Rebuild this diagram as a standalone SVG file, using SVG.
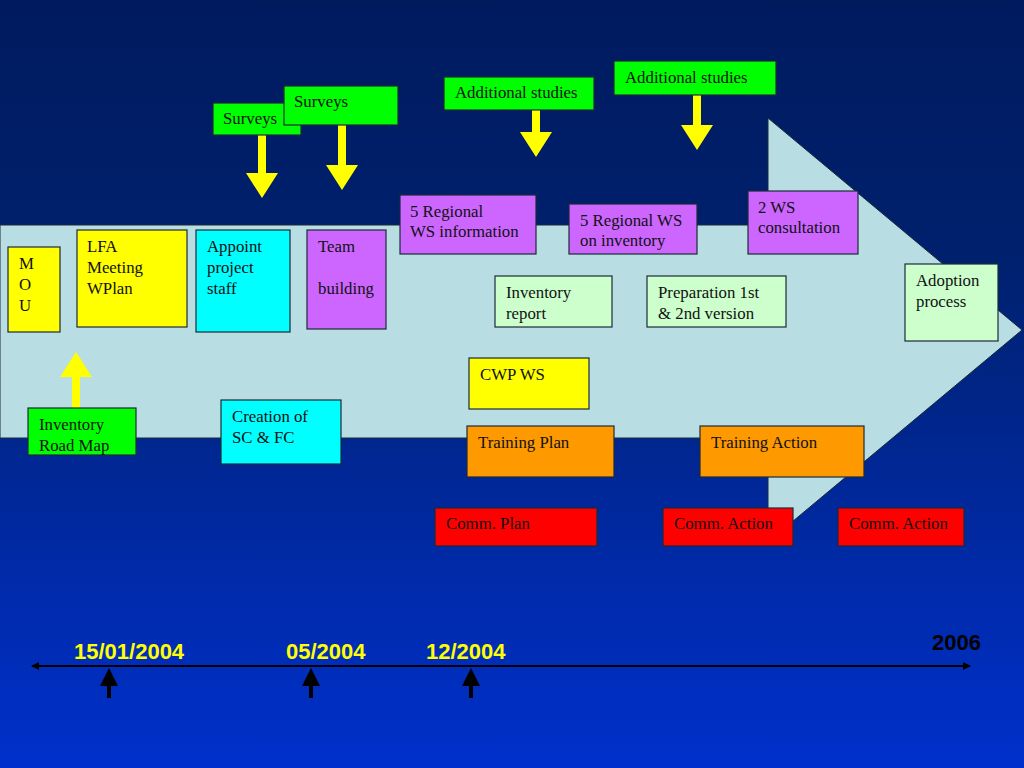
<svg xmlns="http://www.w3.org/2000/svg" width="1024" height="768" viewBox="0 0 1024 768">
<defs>
<linearGradient id="bg" x1="0" y1="0" x2="0" y2="1">
<stop offset="0" stop-color="#001a5e"/>
<stop offset="0.35" stop-color="#00216f"/>
<stop offset="1" stop-color="#0030cc"/>
</linearGradient>
<style>
.b{stroke:#1c2a38;stroke-width:1.2}
.t{font-family:"Liberation Serif","Times New Roman",serif;font-size:16.8px;fill:#111}
.y{fill:#ffff00}
.g{fill:#00ff00}
.c{fill:#00ffff}
.p{fill:#cc66ff}
.lg{fill:#ccffcc}
.o{fill:#ff9900}
.r{fill:#ff0000}
.ya{fill:#ffff00}
.d{font-family:"Liberation Sans",Arial,sans-serif;font-weight:bold;font-size:22px;fill:#ffff00}
</style>
<marker id="te" markerWidth="8" markerHeight="8" refX="7" refY="4" orient="auto" markerUnits="userSpaceOnUse">
<path d="M0,0 L8,4 L0,8 Z" fill="#000"/>
</marker>
<marker id="ts" markerWidth="8" markerHeight="8" refX="1" refY="4" orient="auto" markerUnits="userSpaceOnUse">
<path d="M8,0 L0,4 L8,8 Z" fill="#000"/>
</marker>
</defs>
<rect width="1024" height="768" fill="url(#bg)"/>
<path d="M0,225 L768,225 L768,118 L1022,330 L768,542 L768,438 L0,438 Z" fill="#b8dde2" stroke="#1c2a38" stroke-width="1"/>

<g id="connectors">
<path class="ya" d="M258,135 h8 v38 h12 l-16,25 l-16,-25 h12 Z"/>
<path class="ya" d="M338,125 h8 v40 h12 l-16,25 l-16,-25 h12 Z"/>
<path class="ya" d="M532,110 h8 v22 h12 l-16,25 l-16,-25 h12 Z"/>
<path class="ya" d="M693,95 h8 v30 h12 l-16,25 l-16,-25 h12 Z"/>
<path class="ya" d="M72,408 v-31 h-12 l16,-25 l16,25 h-12 v31 Z"/>
<line x1="32" y1="666" x2="970" y2="666" stroke="#000" stroke-width="2" marker-start="url(#ts)" marker-end="url(#te)"/>
<path d="M107,698 v-12 h-7 l9,-18 l9,18 h-7 v12 Z" fill="#000"/>
<path d="M309,698 v-12 h-7 l9,-18 l9,18 h-7 v12 Z" fill="#000"/>
<path d="M469,698 v-12 h-7 l9,-18 l9,18 h-7 v12 Z" fill="#000"/>
</g>

<g id="mou"><rect class="b y" x="8" y="247" width="52" height="85"/>
<text class="t" x="19" y="269">M</text><text class="t" x="19" y="290">O</text><text class="t" x="19" y="311">U</text></g>
<g id="lfa"><rect class="b y" x="77" y="230" width="110" height="97"/>
<text class="t" x="87" y="252">LFA</text><text class="t" x="87" y="273">Meeting</text><text class="t" x="87" y="294">WPlan</text></g>
<g id="appoint"><rect class="b c" x="196" y="230" width="94" height="102"/>
<text class="t" x="207" y="252">Appoint</text><text class="t" x="207" y="273">project</text><text class="t" x="207" y="294">staff</text></g>
<g id="team"><rect class="b p" x="307" y="230" width="79" height="99"/>
<text class="t" x="318" y="252">Team</text><text class="t" x="318" y="294">building</text></g>
<g id="roadmap"><rect class="b g" x="28" y="408" width="108" height="47"/>
<text class="t" x="39" y="430">Inventory</text><text class="t" x="39" y="451">Road Map</text></g>
<g id="creation"><rect class="b c" x="221" y="400" width="120" height="64"/>
<text class="t" x="232" y="422">Creation of</text><text class="t" x="232" y="443">SC &amp; FC</text></g>
<g id="surveys1"><rect class="b g" x="213" y="103" width="88" height="32"/>
<text class="t" x="223" y="124">Surveys</text></g>
<g id="surveys2"><rect class="b g" x="284" y="86" width="114" height="39"/>
<text class="t" x="294" y="107">Surveys</text></g>
<g id="addstudies1"><rect class="b g" x="444" y="77" width="150" height="33"/>
<text class="t" x="455" y="98">Additional studies</text></g>
<g id="addstudies2"><rect class="b g" x="614" y="61" width="162" height="34"/>
<text class="t" x="625" y="83">Additional studies</text></g>
<g id="regional1"><rect class="b p" x="400" y="195" width="136" height="59"/>
<text class="t" x="410" y="217">5 Regional</text><text class="t" x="410" y="237">WS information</text></g>
<g id="regional2"><rect class="b p" x="569" y="204" width="128" height="50"/>
<text class="t" x="580" y="226">5 Regional WS</text><text class="t" x="580" y="246">on inventory</text></g>
<g id="consult"><rect class="b p" x="748" y="191" width="110" height="63"/>
<text class="t" x="758" y="213">2 WS</text><text class="t" x="758" y="233">consultation</text></g>
<g id="invreport"><rect class="b lg" x="495" y="276" width="117" height="51"/>
<text class="t" x="506" y="298">Inventory</text><text class="t" x="506" y="319">report</text></g>
<g id="prep"><rect class="b lg" x="647" y="276" width="139" height="51"/>
<text class="t" x="658" y="298">Preparation 1st</text><text class="t" x="658" y="319">&amp; 2nd version</text></g>
<g id="adoption"><rect class="b lg" x="905" y="264" width="93" height="77"/>
<text class="t" x="916" y="286">Adoption</text><text class="t" x="916" y="307">process</text></g>
<g id="cwp"><rect class="b y" x="469" y="358" width="120" height="51"/>
<text class="t" x="480" y="380">CWP WS</text></g>
<g id="trainplan"><rect class="b o" x="467" y="426" width="147" height="51"/>
<text class="t" x="478" y="448">Training Plan</text></g>
<g id="trainaction"><rect class="b o" x="700" y="426" width="164" height="51"/>
<text class="t" x="711" y="448">Training Action</text></g>
<g id="commplan"><rect class="b r" x="435" y="508" width="162" height="38"/>
<text class="t" x="446" y="529">Comm. Plan</text></g>
<g id="commaction1"><rect class="b r" x="663" y="508" width="130" height="38"/>
<text class="t" x="674" y="529">Comm. Action</text></g>
<g id="commaction2"><rect class="b r" x="838" y="508" width="126" height="38"/>
<text class="t" x="849" y="529">Comm. Action</text></g>

<g id="dates">
<text class="d" x="74" y="659">15/01/2004</text>
<text class="d" x="286" y="659">05/2004</text>
<text class="d" x="426" y="659">12/2004</text>
<text class="d" x="932" y="650" style="fill:#000">2006</text>
</g>
</svg>
